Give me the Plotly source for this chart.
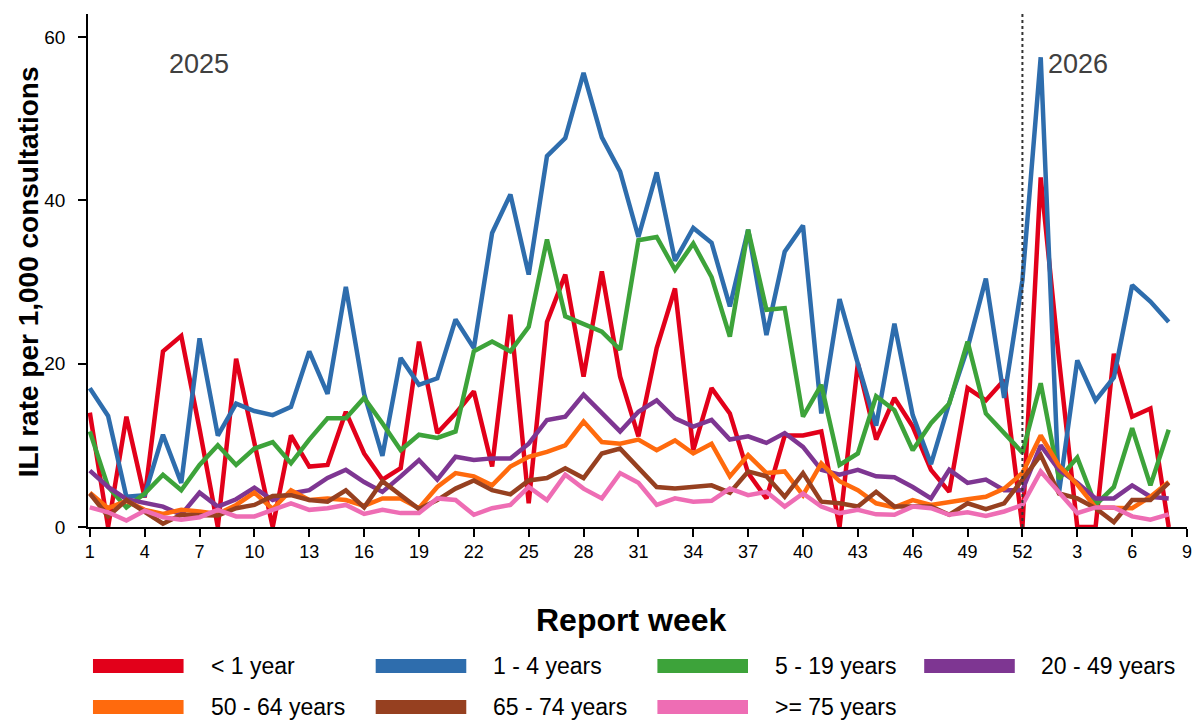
import plotly.graph_objects as go

# Report weeks: 2025 weeks 1-52 followed by 2026 weeks 1-8
weeks_2025 = list(range(1, 53))
weeks_2026 = list(range(1, 9))

under_1 = [14.0, 0.0, 13.5, 3.6, 21.5, 23.4, 12.0, 0.0, 20.6, 10.0,
           0.0, 11.2, 7.4, 7.6, 14.1, 9.0, 5.8, 7.2, 22.7, 11.5,
           13.9, 16.6, 7.4, 26.0, 2.9, 25.1, 30.9, 18.4, 31.3, 18.4,
           11.1, 21.9, 29.2, 9.4, 17.0, 13.9, 6.6, 3.5, 11.2, 11.2,
           11.7, 0.0, 20.0, 10.7, 15.8, 12.3, 7.0, 4.3, 17.0, 15.5,
           18.0, 0.0,
           42.8, 20.5, 0.0, 0.0, 21.2, 13.5, 14.5, 0.0]

age_1_4 = [17.0, 13.6, 3.7, 3.9, 11.3, 5.4, 23.1, 11.2, 15.1, 14.2,
           13.7, 14.7, 21.5, 16.3, 29.4, 16.3, 8.7, 20.7, 17.4, 18.2,
           25.4, 21.9, 36.0, 40.7, 30.9, 45.4, 47.6, 55.6, 47.7, 43.5,
           35.5, 43.4, 32.6, 36.6, 34.8, 27.0, 36.4, 23.5, 33.7, 36.9,
           13.9, 27.9, 20.0, 12.4, 24.9, 13.7, 7.7, 15.2, 21.9, 30.4,
           15.8, 30.2,
           57.5, 4.2, 20.4, 15.5, 18.3, 29.6, 27.6, 25.1]

age_5_19 = [11.7, 4.9, 2.4, 4.1, 6.4, 4.5, 7.6, 10.0, 7.6, 9.6,
            10.4, 7.8, 10.7, 13.3, 13.3, 15.8, 12.7, 9.4, 11.3, 10.9,
            11.7, 21.5, 22.7, 21.5, 24.5, 35.2, 25.8, 24.9, 23.9, 21.7,
            35.1, 35.5, 31.5, 34.7, 30.6, 23.3, 36.4, 26.6, 26.8, 13.5,
            17.4, 7.6, 9.0, 16.0, 14.3, 9.4, 12.7, 15.1, 22.7, 13.9,
            11.5, 9.1,
            17.6, 5.9, 8.5, 2.7, 4.9, 12.1, 5.1, 11.9]

age_20_49 = [6.9, 4.9, 3.4, 2.9, 2.5, 1.5, 4.2, 2.5, 3.4, 4.8,
             3.3, 4.1, 4.5, 6.0, 7.0, 5.5, 4.3, 6.2, 8.2, 5.8,
             8.6, 8.2, 8.4, 8.4, 10.2, 13.1, 13.5, 16.2, 13.9, 11.7,
             14.1, 15.5, 13.3, 12.3, 13.1, 10.7, 11.1, 10.3, 11.5, 9.8,
             7.0, 6.4, 7.0, 6.2, 6.1, 4.9, 3.5, 7.0, 5.4, 5.8,
             4.5, 4.5,
             10.0, 7.0, 5.4, 3.5, 3.5, 5.1, 3.7, 3.5]

age_50_64 = [4.2, 2.3, 3.2, 2.1, 1.6, 2.1, 1.9, 1.6, 2.7, 4.2,
             2.2, 4.5, 3.3, 3.5, 3.3, 2.6, 3.5, 3.5, 2.3, 4.9,
             6.6, 6.2, 5.1, 7.4, 8.6, 9.2, 10.0, 12.9, 10.4, 10.2,
             10.7, 9.4, 10.6, 9.0, 10.2, 6.2, 8.8, 6.6, 6.8, 3.9,
             7.8, 5.6, 4.5, 2.9, 2.4, 3.3, 2.7, 3.1, 3.4, 3.7,
             4.7, 6.6,
             11.2, 7.5, 5.2, 2.4, 2.3, 2.3, 3.7, 5.5]

age_65_74 = [4.1, 1.3, 3.3, 1.8, 0.4, 1.5, 1.4, 1.4, 2.3, 2.7,
             3.8, 3.9, 3.3, 3.1, 4.5, 2.4, 5.6, 3.9, 2.2, 3.3,
             4.7, 5.7, 4.5, 4.0, 5.7, 6.0, 7.2, 6.0, 9.0, 9.6,
             7.2, 4.9, 4.7, 4.9, 5.1, 4.2, 6.8, 6.2, 3.7, 6.6,
             3.1, 2.9, 2.5, 4.3, 2.5, 2.5, 2.5, 1.5, 2.9, 2.2,
             2.9, 5.8,
             8.8, 4.1, 3.5, 2.3, 0.6, 3.3, 3.3, 5.4]

age_75_plus = [2.4, 1.8, 0.8, 2.0, 1.2, 0.9, 1.2, 2.1, 1.3, 1.3,
               2.1, 2.9, 2.1, 2.3, 2.7, 1.6, 2.1, 1.7, 1.7, 3.5,
               3.3, 1.5, 2.3, 2.7, 4.9, 3.3, 6.4, 4.7, 3.5, 6.6,
               5.4, 2.7, 3.5, 3.1, 3.2, 4.7, 3.9, 4.3, 2.5, 4.1,
               2.5, 1.7, 2.1, 1.55, 1.5, 2.5, 2.3, 1.5, 1.8, 1.35,
               1.9, 2.7,
               6.8, 4.2, 1.7, 2.4, 2.4, 1.3, 0.9, 1.55]

series_names = ["< 1 year", "1 - 4 years", "5 - 19 years", "20 - 49 years",
                "50 - 64 years", "65 - 74 years", ">= 75 years"]
series_values = [under_1, age_1_4, age_5_19, age_20_49,
                 age_50_64, age_65_74, age_75_plus]
series_colors = ["#E2001A", "#2E6DAD", "#3DA33A", "#7E3692",
                 "#FF6A0D", "#964020", "#EE6DB4"]

# Sequential position of every report week on the x axis
week_labels = weeks_2025 + weeks_2026
x_pos = list(range(1, len(week_labels) + 1))
year_break = len(weeks_2025)

# Every third week is labelled, continuing into the following year
tick_pos = list(range(1, len(week_labels) + 2, 3))
tick_text = [str(p if p <= 52 else p - 52) for p in tick_pos]

FONT = "Arial, Liberation Sans, sans-serif"

fig = go.Figure()
for name, vals, col in zip(series_names, series_values, series_colors):
    fig.add_trace(go.Scatter(
        x=x_pos, y=vals, mode="lines", name=name,
        line=dict(color=col, width=4.5), showlegend=False,
    ))

# Year boundary
fig.add_shape(type="line", xref="x", yref="paper",
              x0=year_break, x1=year_break, y0=0, y1=1,
              line=dict(color="#333333", width=2, dash="dot"))

L, R, T, B = 88, 11, 14, 194
W, H = 1203, 721
pw, ph = W - L - R, H - T - B


def px_x(px):
    return (px - L) / pw


def px_y(py):
    return (H - B - py) / ph


annotations = [
    dict(text="2025", x=px_x(200), y=px_y(64), xref="paper", yref="paper",
         xanchor="center", yanchor="middle", showarrow=False,
         font=dict(size=27, color="#404040", family=FONT)),
    dict(text="2026", x=px_x(1050), y=px_y(64), xref="paper", yref="paper",
         xanchor="left", yanchor="middle", showarrow=False,
         font=dict(size=27, color="#404040", family=FONT)),
    dict(text="<b>Report week</b>", x=px_x(633), y=px_y(620),
         xref="paper", yref="paper", xanchor="center", yanchor="middle",
         showarrow=False, font=dict(size=32, color="black", family=FONT)),
    dict(text="<b>ILI rate per 1,000 consultations</b>", x=px_x(28),
         y=px_y(272), xref="paper", yref="paper", textangle=-90,
         xanchor="center", yanchor="middle",
         showarrow=False, font=dict(size=28, color="black", family=FONT)),
]

# Legend: two rows of four wide colour swatches with labels
swatch_left = [93, 377, 660, 928]
text_left = [210, 493, 776, 1043]
row_mid = [666, 707]
shapes = []
for i, (name, col) in enumerate(zip(series_names, series_colors)):
    r, c = divmod(i, 4)
    shapes.append(dict(type="rect", xref="paper", yref="paper",
                       x0=px_x(swatch_left[c]), x1=px_x(swatch_left[c] + 91),
                       y0=px_y(row_mid[r] - 7), y1=px_y(row_mid[r] + 7),
                       fillcolor=col, line=dict(width=0)))
    annotations.append(dict(text=name, x=px_x(text_left[c]), y=px_y(row_mid[r]),
                            xref="paper", yref="paper", xanchor="left",
                            yanchor="middle", showarrow=False,
                            font=dict(size=23, color="black", family=FONT)))

for s in shapes:
    fig.add_shape(**s)

fig.update_layout(
    width=W, height=H,
    margin=dict(l=L, r=R, t=T, b=B, pad=0),
    paper_bgcolor="white", plot_bgcolor="white",
    font=dict(family=FONT, color="black"),
    annotations=annotations,
    showlegend=False,
)
fig.update_xaxes(
    range=[0.9, 61.0], tickvals=tick_pos, ticktext=tick_text,
    showgrid=False, zeroline=False, showline=True, linecolor="black",
    linewidth=1.5, ticks="outside", ticklen=8, tickwidth=1.5,
    tickcolor="black", tickfont=dict(size=18, color="black"),
)
fig.update_yaxes(
    range=[0, 62.8], tickvals=[0, 20, 40, 60],
    showgrid=False, zeroline=False, showline=True, linecolor="black",
    linewidth=1.5, ticks="outside", ticklen=8, tickwidth=1.5,
    tickcolor="black", tickfont=dict(size=19, color="black"),
    ticklabelstandoff=9,
)

fig.write_html("out.html")
